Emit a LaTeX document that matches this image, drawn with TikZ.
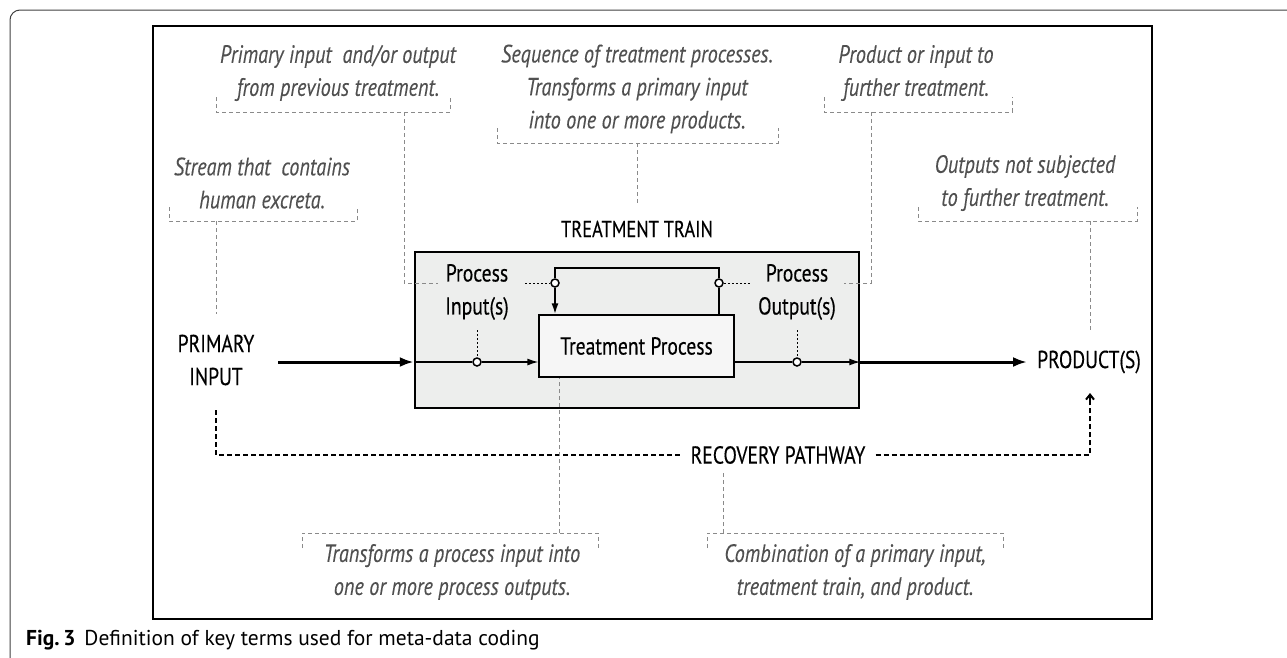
\documentclass[tikz,border=0pt]{standalone}
\usepackage{fontspec}
\setmainfont{PT Sans}[FakeStretch=0.8, FakeBold=0.3]
\newfontfamily\notefont{PT Sans}[FakeStretch=0.81, FakeBold=0.15]
\newfontfamily\capfont{PT Sans}
\usetikzlibrary{arrows.meta}
\definecolor{annot}{HTML}{505050}
\definecolor{brk}{HTML}{8A8A8A}
\definecolor{ttfill}{HTML}{EDEEED}
\definecolor{tpfill}{HTML}{F6F6F6}
\tikzset{
  lbl/.style={font=\fontsize{24.5}{33}\selectfont, align=center, inner sep=0pt},
  note/.style={font=\notefont\fontsize{25}{33}\selectfont\itshape, text=annot, align=center, inner sep=0pt},
  bracket/.style={draw=brk, line width=0.9pt, dash pattern=on 4pt off 3pt},
  dots/.style={draw=black, line width=0.9pt, dash pattern=on 2pt off 2pt},
  mainflow/.style={draw, line width=3pt, -{Latex[length=14pt,width=10pt]}},
  inflow/.style={draw, line width=1.4pt},
  inarrow/.style={draw, line width=1.4pt, -{Latex[length=11pt,width=7pt]}},
  loopline/.style={draw, line width=2pt},
  rec/.style={draw, line width=2pt, dash pattern=on 5pt off 3pt},
  port/.style={circle, draw, fill=white, line width=1.5pt, minimum size=8pt, inner sep=0pt},
}
\begin{document}
\begin{tikzpicture}[x=1pt,y=-1pt]
\useasboundingbox (0,0) rectangle (1287,657);
% page frame
\draw[line width=1pt, black!75, rounded corners=10pt] (10,670) -- (10,10) -- (1300,10);
% inner frame
\draw[line width=2.2pt] (153,26) rectangle (1152,619);
% caption
\node[anchor=west, inner sep=0pt, font=\capfont\fontsize{21.5}{24}\selectfont] (cap) at (26,640) {\textbf{Fig.\,3}\hspace{9pt}Definition of key terms used for meta-data coding};

% treatment train box
\node[draw, line width=2.5pt, fill=ttfill, minimum width=444pt, minimum height=156pt, inner sep=0pt] (tt) at (637,330) {};
\node[lbl, font=\fontsize{23}{33}\selectfont] (ttl) at (637,229) {TREATMENT TRAIN};
% treatment process box
\node[draw, line width=1.2pt, fill=tpfill, minimum width=195pt, minimum height=62pt, inner sep=0pt, lbl] (tp) at (636.5,346) {Treatment Process};

% main labels
\node[lbl] (pin) at (216,360) {PRIMARY\\INPUT};
\node[lbl] (prod) at (1089,362) {PRODUCT(S)};
\node[lbl, inner xsep=10pt] (rp) at (778,455) {RECOVERY PATHWAY};

% ports
\node[port] (cin) at (477,362) {};
\node[port] (cout) at (797,362) {};
\node[port] (cl) at (555,283) {};
\node[port] (cr) at (719,283) {};
\node[lbl] (pil) at (477,292) {Process\\Input(s)};
\node[lbl] (pol) at (797,292) {Process\\Output(s)};

% flows
\coordinate (pstart) at (278,362);
\coordinate (pend) at (1027,362);
\draw[mainflow] (pstart) -- (tt.west |- cin);
\draw[inflow] (tt.west |- cin) -- (cin);
\draw[inarrow] (cin) -- (cin -| tp.west);
\draw[inflow] (tp.east |- cout) -- (cout);
\draw[inarrow] (cout) -- (cout -| tt.east);
\draw[mainflow] (cout -| tt.east) -- (pend);
% loop
\coordinate (lt) at (555,268);
\coordinate (rt) at (719,268);
\draw[loopline] (cr |- tp.north) -- (cr);
\draw[loopline] (cr) -- (rt) -- (lt) -- (cl);
\draw[loopline, -{Latex[length=11pt,width=7pt]}] (cl) -- (cl |- tp.north);
% dotted leaders
\draw[dots] (525,283) -- (cl.west);
\draw[dots] (cr.east) -- (750,283);
\draw[dots] (477,330) -- (cin.north);
\draw[dots] (797,330) -- (cout.north);

% recovery pathway
\coordinate (rp1) at (216,410);
\coordinate (rp2) at (1090,393);
\draw[rec] (rp1) -- (216,455) -- (rp.west);
\draw[rec] (rp.east) -- (1090,455) -- (1090,400);
\draw[line width=2pt, -{Straight Barb[length=5pt,width=8pt]}] (1090,401) -- (rp2);

% annotations
\node[note] (n1) at (338,73) {Primary input\ \ and/or output\\from previous treatment.};
\draw[bracket] (216,97) -- (216,112) -- (450,112) -- (450,97);
\draw[bracket] (404,112) -- (404,283) -- (438,283);

\node[note] (n2) at (637,89) {Sequence of treatment processes.\\Transforms a primary input\\into one or more products.};
\draw[bracket] (497,128) -- (497,143) -- (778,143) -- (778,128);
\draw[bracket] (637,143) -- (637,205);

\node[note] (n3) at (916,73) {Product or input to\\further treatment.};
\draw[bracket] (824,97) -- (824,112) -- (1012,112) -- (1012,97);
\draw[bracket] (871,112) -- (871,283) -- (844,283);

\node[note] (n4) at (262,183) {Stream that\ \ contains\\human excreta.};
\draw[bracket] (169,207) -- (169,221) -- (357,221) -- (357,207);
\draw[bracket] (216,221) -- (216,314);

\node[note] (n5) at (1025,183) {Outputs not subjected\\to further treatment.};
\draw[bracket] (918,207) -- (918,221) -- (1137,221) -- (1137,207);
\draw[bracket] (1090,221) -- (1090,330);

\node[note] (n6) at (452,572) {Transforms a process input into\\one or more process outputs.};
\coordinate (s6) at (559,533);
\draw[bracket] (302,548) -- (302,533) -- (598,533) -- (598,548);
\draw[bracket] (s6) -- (s6 |- tp.south);

\node[note] (n7) at (855,572) {Combination of a primary input,\\treatment train, and product.};
\draw[bracket] (707,548) -- (707,533) -- (1003,533) -- (1003,548);
\draw[bracket] (723,533) -- (723,472);
\end{tikzpicture}
\end{document}
